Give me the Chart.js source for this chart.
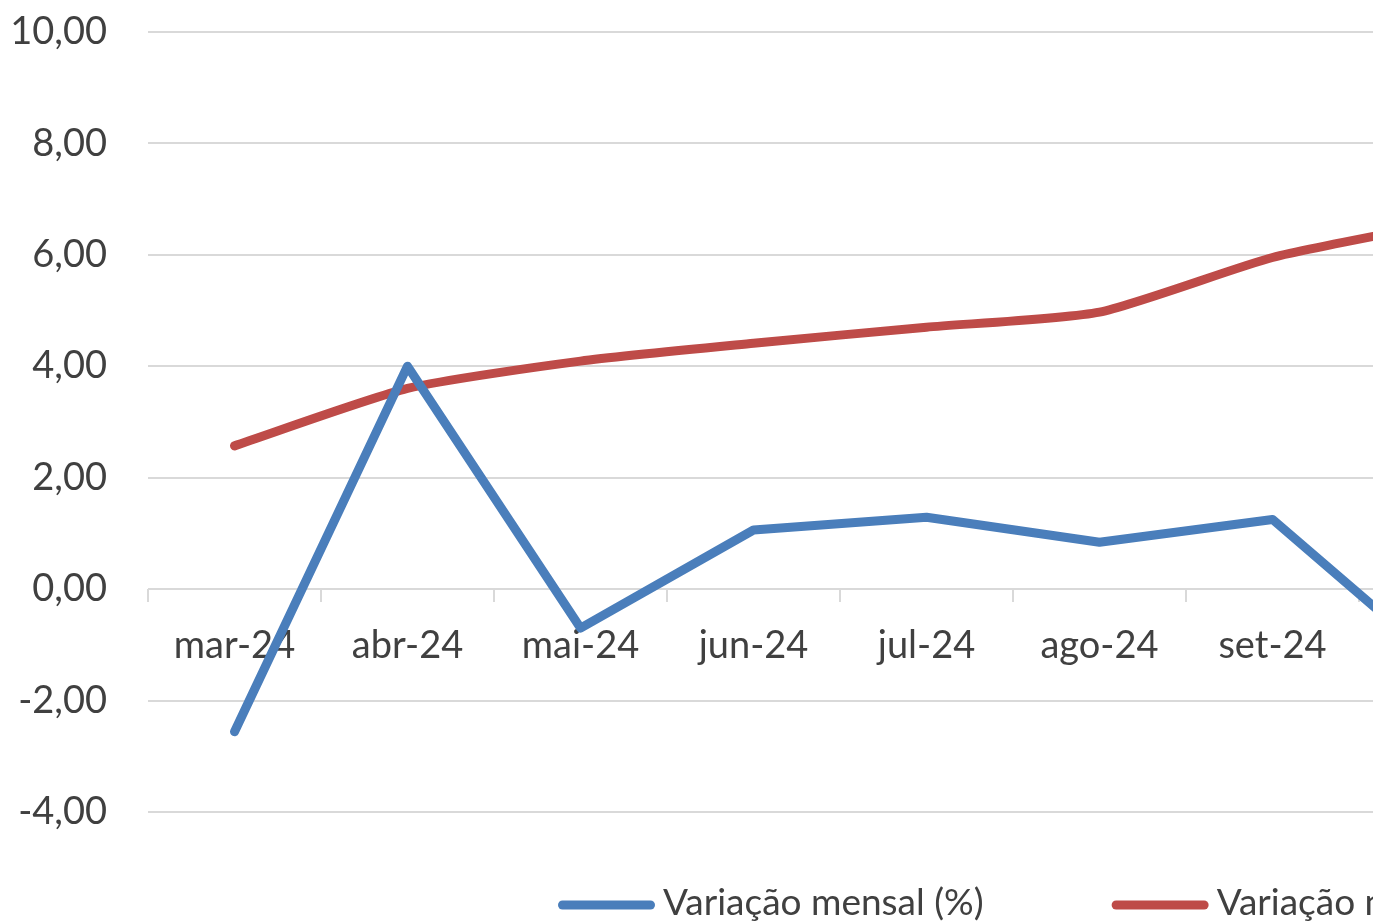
<!DOCTYPE html>
<html lang="pt">
<head>
<meta charset="utf-8">
<title>Variação mensal</title>
<script src="https://cdn.jsdelivr.net/npm/chart.js@4.4.1/dist/chart.umd.min.js"></script>
<style>
  html, body { margin: 0; padding: 0; background: #ffffff; overflow: hidden; }
  #wrap { position: relative; width: 1560px; height: 954px; margin-top: -32px; }
</style>
</head>
<body>
<div id="wrap"><canvas id="chart"></canvas></div>
<script>
// Months shown on the category axis
const months = ['mar-24', 'abr-24', 'mai-24', 'jun-24', 'jul-24', 'ago-24', 'set-24', 'out-24'];

// Monthly change (%)
const monthlyChange = [-2.56, 4.00, -0.70, 1.06, 1.29, 0.84, 1.25, -1.42];

// Trailing 12-month change (%)
const trailingChange = [2.57, 3.60, 4.09, 4.41, 4.70, 4.97, 5.95, 6.58];

// Value axis ticks
const yTicks = [-4, -2, 0, 2, 4, 6, 8, 10];

const seriesNames = ['Variação mensal (%)', 'Variação nos últimos 12 meses (%)'];

const textColor = '#404040';
const gridColor = '#d9d9d9';
const fontFamily = 'Lato, "Open Sans", sans-serif';

// Legend drawn as a single row under the plot: thick line sample + label
const lineLegend = {
  id: 'lineLegend',
  afterDraw(chart, args, opts) {
    const ctx = chart.ctx;
    ctx.save();
    let x = opts.startX;
    chart.data.datasets.forEach((ds) => {
      ctx.strokeStyle = ds.borderColor;
      ctx.lineWidth = ds.borderWidth;
      ctx.lineCap = 'round';
      const half = ds.borderWidth / 2;
      ctx.beginPath();
      ctx.moveTo(x + half, opts.y);
      ctx.lineTo(x + opts.sampleWidth - half, opts.y);
      ctx.stroke();
      ctx.fillStyle = textColor;
      ctx.font = opts.fontSize + 'px ' + fontFamily;
      ctx.textBaseline = 'middle';
      ctx.textAlign = 'left';
      const tx = x + opts.sampleWidth + opts.gap;
      ctx.fillText(ds.label, tx, opts.textY);
      x = tx + ctx.measureText(ds.label).width + opts.itemSpacing;
    });
    ctx.restore();
  }
};

new Chart(document.getElementById('chart'), {
  type: 'line',
  data: {
    labels: months,
    datasets: [
      {
        label: seriesNames[0],
        data: monthlyChange,
        borderColor: '#4a7ebb',
        backgroundColor: '#4a7ebb',
        borderWidth: 9,
        borderCapStyle: 'round',
        borderJoinStyle: 'round',
        pointRadius: 0,
        tension: 0
      },
      {
        label: seriesNames[1],
        data: trailingChange,
        borderColor: '#be4b48',
        backgroundColor: '#be4b48',
        borderWidth: 9,
        borderCapStyle: 'round',
        borderJoinStyle: 'round',
        pointRadius: 0,
        tension: 0.2
      }
    ]
  },
  options: {
    responsive: true,
    maintainAspectRatio: false,
    animation: false,
    layout: { padding: { top: 0, right: 28, bottom: 110, left: 0 } },
    plugins: {
      legend: { display: false },
      tooltip: { enabled: false },
      lineLegend: {
        startX: 558,
        y: 937,
        textY: 935,
        sampleWidth: 97,
        gap: 8,
        itemSpacing: 128,
        fontSize: 37
      }
    },
    scales: {
      x: {
        type: 'category',
        position: { y: 0 },
        offset: true,
        grid: {
          offset: true,
          drawOnChartArea: false,
          drawTicks: true,
          tickLength: 13,
          color: gridColor,
          lineWidth: 2
        },
        border: { display: false },
        ticks: {
          color: textColor,
          font: { family: fontFamily, size: 38 },
          padding: 21,
          maxRotation: 0,
          autoSkip: false
        }
      },
      y: {
        min: -4,
        max: 10,
        afterBuildTicks(scale) {
          scale.ticks = yTicks.map(v => ({ value: v }));
        },
        afterFit(scale) { scale.width = 148; },
        grid: {
          color: gridColor,
          lineWidth: 2,
          drawTicks: false
        },
        border: { display: false },
        ticks: {
          color: textColor,
          font: { family: fontFamily, size: 38 },
          padding: 41,
          callback: (v) => v.toFixed(2).replace('.', ',')
        }
      }
    }
  },
  plugins: [lineLegend]
});
</script>
</body>
</html>
